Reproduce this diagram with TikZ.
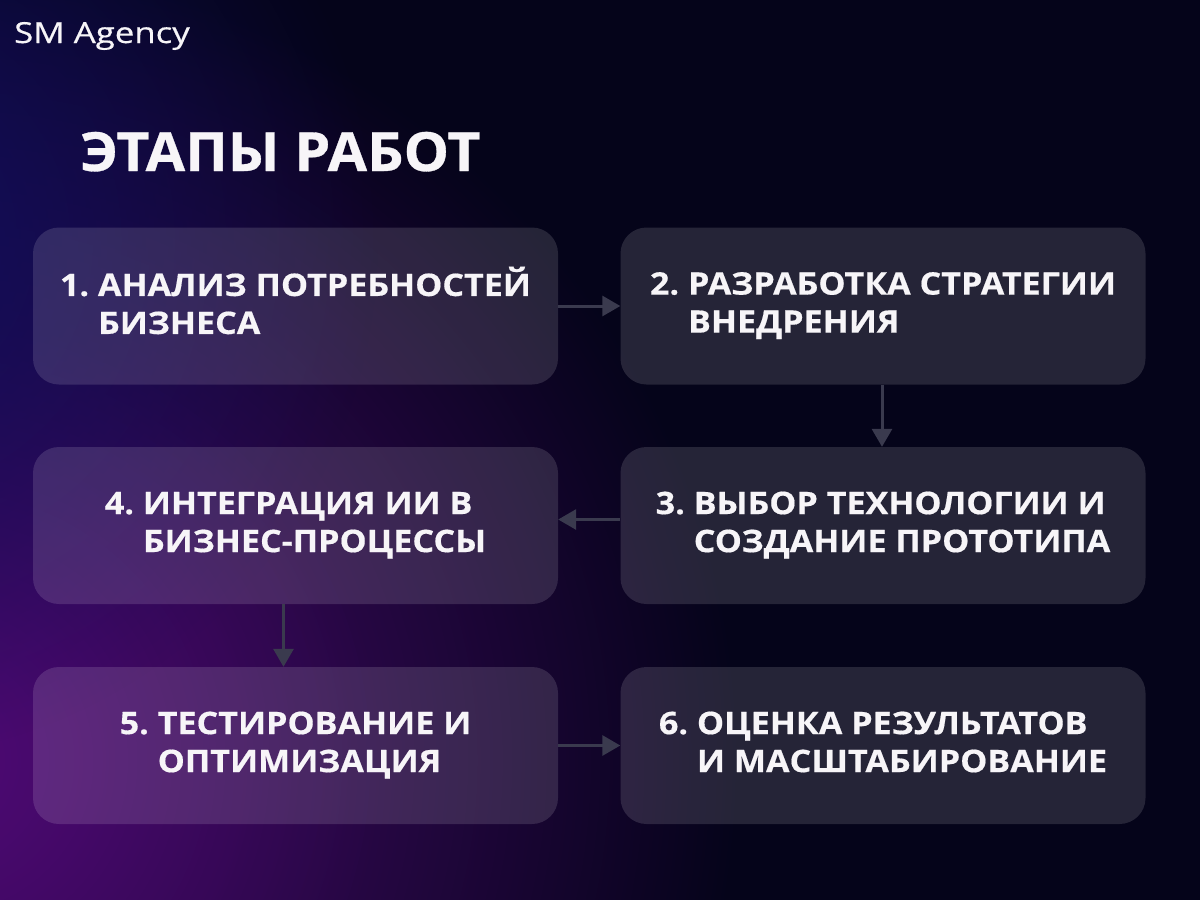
\documentclass[tikz,border=0pt]{standalone}
\usepackage{fontspec}
\setmainfont{Open Sans}
\newfontfamily\boxfont[FakeStretch=1.1,FakeBold=0.5]{Open Sans}
\newfontfamily\titlefont[FakeStretch=1.06,FakeBold=0.6]{Open Sans}
\newfontfamily\logofont[FakeStretch=1.2,FakeBold=0.5]{Open Sans}
\usetikzlibrary{arrows.meta,fadings}
\definecolor{bgbase}{HTML}{05041A}
\definecolor{glowpurple}{HTML}{4E0A74}
\definecolor{glownavy}{HTML}{100F5C}
\definecolor{arrowgray}{HTML}{3A3A4E}
\definecolor{txt}{HTML}{F7F5F8}
\tikzfading[name=glowfade, inner color=transparent!0, outer color=transparent!100]
\newcommand\stg[2]{#1\ \begin{tabular}[t]{@{}l@{}}#2\end{tabular}}
\tikzset{
  stage/.style={rectangle, rounded corners=26pt, fill=white, fill opacity=0.13,
    draw=none, inner sep=0pt, minimum width=525pt, minimum height=157pt},
  stagetext/.style={text=txt, inner sep=0pt, align=left,
    font=\boxfont\bfseries\fontsize{31}{38}\selectfont},
  flow/.style={draw=arrowgray, line width=3pt,
    -{Triangle[length=18pt,width=20pt]}},
}
\begin{document}
\begin{tikzpicture}[x=1pt,y=-1pt]
\useasboundingbox (0,0) rectangle (1200,900);
\fill[bgbase] (0,0) rectangle (1200,900);
\begin{scope}
  \clip (0,0) rectangle (1200,900);
  \fill[glowpurple, path fading=glowfade] (-60,760) circle (800pt);
  \fill[glowpurple, path fading=glowfade, fill opacity=0.45] (-60,760) circle (450pt);
  \fill[glownavy, path fading=glowfade] (-140,240) circle (520pt);
\end{scope}

\node[anchor=base west, text=txt, inner sep=0pt, font=\logofont\fontsize{29}{34}\selectfont] (logo) at (14,43) {SM Agency};
\node[anchor=base west, text=txt, inner sep=0pt, font=\titlefont\bfseries\fontsize{54}{60}\selectfont] (title) at (80,171) {ЭТАПЫ РАБОТ};

\node[stage] (b1) at (295.5,306) {};
\node[stage] (b2) at (883,306) {};
\node[stage] (b3) at (883,525.5) {};
\node[stage] (b4) at (295.5,525.5) {};
\node[stage] (b5) at (295.5,745.5) {};
\node[stage] (b6) at (883,745.5) {};

\node[stagetext] (t1) at (b1.center) {\stg{1.}{АНАЛИЗ ПОТРЕБНОСТЕЙ\\БИЗНЕСА}};
\node[stagetext] (t2) at (b2.center) {\stg{2.}{РАЗРАБОТКА СТРАТЕГИИ\\ВНЕДРЕНИЯ}};
\node[stagetext] (t3) at (b3.center) {\stg{3.}{ВЫБОР ТЕХНОЛОГИИ И\\СОЗДАНИЕ ПРОТОТИПА}};
\node[stagetext] (t4) at (b4.center) {\stg{4.}{ИНТЕГРАЦИЯ ИИ В\\БИЗНЕС-ПРОЦЕССЫ}};
\node[stagetext] (t5) at (b5.center) {\stg{5.}{ТЕСТИРОВАНИЕ И\\ОПТИМИЗАЦИЯ}};
\node[stagetext] (t6) at (b6.center) {\stg{6.}{ОЦЕНКА РЕЗУЛЬТАТОВ\\И МАСШТАБИРОВАНИЕ}};

\draw[flow] (b1.east) -- (b2.west);
\draw[flow] ([xshift=-1pt]b2.south) -- ([xshift=-1pt]b3.north);
\draw[flow] ([yshift=6pt]b3.west) -- ([yshift=6pt]b4.east);
\draw[flow] ([xshift=-12pt]b4.south) -- ([xshift=-12pt]b5.north);
\draw[flow] (b5.east) -- (b6.west);
\end{tikzpicture}
\end{document}
